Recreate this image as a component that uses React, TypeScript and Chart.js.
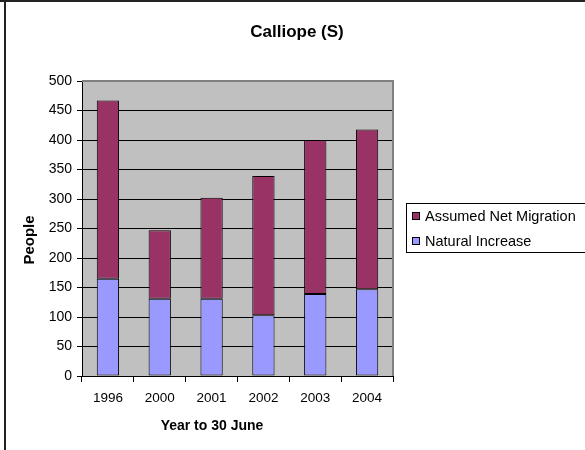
import React, { useEffect, useRef } from "react";
import { Chart, registerables } from "chart.js";

Chart.register(...registerables);

const chartTitle = "Calliope (S)";
const xAxisTitle = "Year to 30 June";
const yAxisTitle = "People";
const categories = ["1996", "2000", "2001", "2002", "2003", "2004"];
const naturalIncrease = [165, 131, 131, 103, 139, 147];
const netMigration = [302, 116, 171, 236, 261, 271];
const seriesNames = ["Natural Increase", "Assumed Net Migration"];
const yTicks = [0, 50, 100, 150, 200, 250, 300, 350, 400, 450, 500];

const FONT = "Arial, 'Liberation Sans', sans-serif";

const decorPlugin = {
  id: "decor",
  beforeDraw(chart: any) {
    const { ctx, chartArea } = chart;
    ctx.save();
    ctx.fillStyle = "#ffffff";
    ctx.fillRect(0, 0, chart.width, chart.height);
    // outer border (top & left)
    ctx.fillStyle = "#222222";
    ctx.fillRect(0, 0, chart.width, 2);
    ctx.fillRect(4, 0, 2, chart.height);
    // plot area background
    ctx.fillStyle = "#C0C0C0";
    ctx.fillRect(chartArea.left, chartArea.top, chartArea.right - chartArea.left, chartArea.bottom - chartArea.top);
    ctx.restore();
  },
  afterDraw(chart: any) {
    const { ctx, chartArea } = chart;
    ctx.save();
    // plot area top/right border
    ctx.strokeStyle = "#808080";
    ctx.lineWidth = 2;
    ctx.beginPath();
    ctx.moveTo(chartArea.left, chartArea.top);
    ctx.lineTo(chartArea.right, chartArea.top);
    ctx.lineTo(chartArea.right, chartArea.bottom);
    ctx.stroke();

    // title
    ctx.fillStyle = "#000000";
    ctx.textAlign = "center";
    ctx.textBaseline = "middle";
    ctx.font = `bold 17px ${FONT}`;
    ctx.fillText(chartTitle, 297, 32);

    // x axis title
    ctx.font = `bold 14px ${FONT}`;
    ctx.fillText(xAxisTitle, 212, 426);

    // y axis title
    ctx.font = `bold 15px ${FONT}`;
    ctx.save();
    ctx.translate(30, 240);
    ctx.rotate(-Math.PI / 2);
    ctx.fillText(yAxisTitle, 0, 0);
    ctx.restore();

    // legend (reversed order like Excel)
    const lx = 406, ly = 203, lw = 200, lh = 49;
    ctx.fillStyle = "#ffffff";
    ctx.fillRect(lx, ly, lw, lh);
    ctx.strokeStyle = "#000000";
    ctx.lineWidth = 1;
    ctx.strokeRect(lx + 0.5, ly + 0.5, lw, lh);
    const ds = chart.data.datasets;
    const order = [1, 0];
    ctx.font = `14.5px ${FONT}`;
    ctx.textAlign = "left";
    order.forEach((di, i) => {
      const cy = 216 + i * 25;
      ctx.fillStyle = ds[di].backgroundColor;
      ctx.fillRect(412.5, cy - 3.5, 7, 7);
      ctx.strokeStyle = "#000000";
      ctx.strokeRect(412.5, cy - 3.5, 7, 7);
      ctx.fillStyle = "#000000";
      ctx.fillText(ds[di].label, 425, cy + 1);
    });
    ctx.restore();
  },
};

export default function App() {
  const ref = useRef<HTMLCanvasElement>(null);
  useEffect(() => {
    document.body.style.margin = "0";
    const chart = new Chart(ref.current!, {
      type: "bar",
      data: {
        labels: categories,
        datasets: [
          {
            label: seriesNames[0],
            data: naturalIncrease,
            backgroundColor: "#9999FF",
            borderColor: "#000000",
            borderWidth: 1,
            borderSkipped: false,
            barPercentage: 0.43,
            categoryPercentage: 1,
          },
          {
            label: seriesNames[1],
            data: netMigration,
            backgroundColor: "#993366",
            borderColor: "#000000",
            borderWidth: 1,
            borderSkipped: false,
            barPercentage: 0.43,
            categoryPercentage: 1,
          },
        ],
      },
      options: {
        animation: false,
        responsive: false,
        maintainAspectRatio: false,
        layout: { padding: { left: 0, top: 81, right: 192, bottom: 0 } },
        plugins: { legend: { display: false }, title: { display: false }, tooltip: { enabled: false } },
        scales: {
          x: {
            stacked: true,
            offset: true,
            grid: { offset: true, drawOnChartArea: false, color: "#000000", tickLength: 6, lineWidth: 1 },
            border: { color: "#000000", width: 1 },
            ticks: { color: "#000000", font: { family: FONT, size: 13.5 }, padding: 8, maxRotation: 0 },
            afterFit: (s: any) => { s.height = 74; },
          },
          y: {
            stacked: true,
            min: 0,
            max: 500,
            afterBuildTicks: (s: any) => { s.ticks = yTicks.map((v) => ({ value: v })); },
            grid: { color: "#000000", tickLength: 5, lineWidth: 1 },
            border: { color: "#000000", width: 1 },
            ticks: { color: "#000000", font: { family: FONT, size: 14 }, padding: 5 },
            afterFit: (s: any) => { s.width = 82; },
          },
        },
      },
      plugins: [decorPlugin],
    });
    return () => chart.destroy();
  }, []);
  return <canvas ref={ref} width={585} height={450} style={{ display: "block" }} />;
}
